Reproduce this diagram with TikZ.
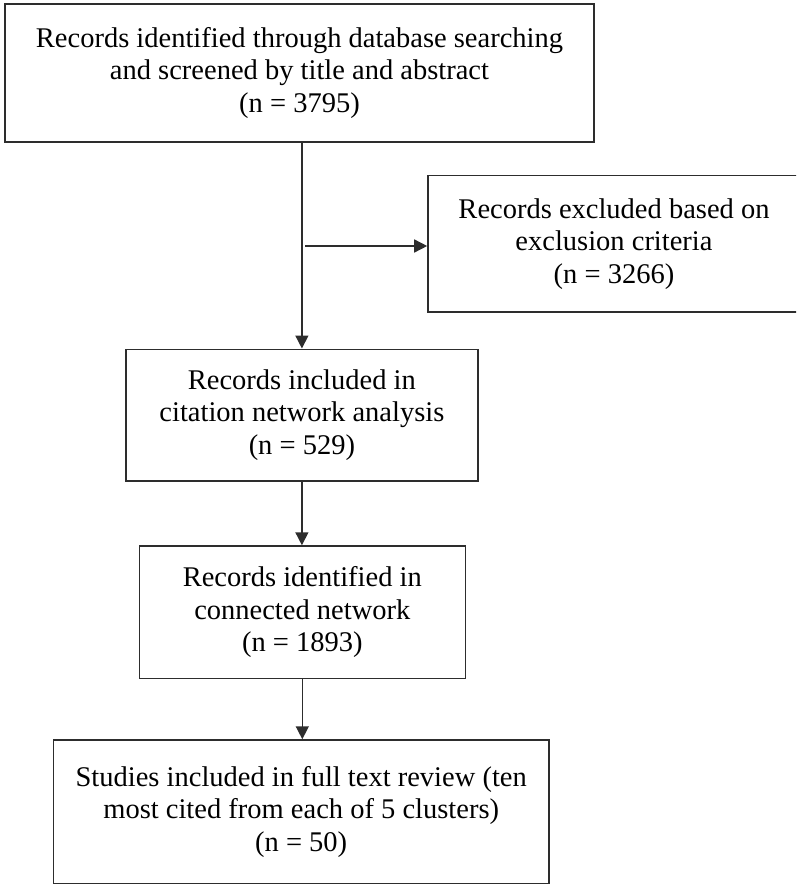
\documentclass[tikz,border=0pt]{standalone}
\usepackage{fontspec}
\setmainfont{Liberation Serif}
\usetikzlibrary{arrows.meta,positioning,calc}
\definecolor{linegray}{RGB}{45,45,45}

\tikzset{
  stagebox/.style={draw=linegray, line width=1.6pt, rectangle, align=center,
    inner sep=0pt, font=\fontsize{28.5}{32.5}\selectfont},
  flowarrow/.style={draw=linegray, line width=1.5pt,
    -{Triangle[length=13pt,width=13pt]}}
}

\begin{document}
\begin{tikzpicture}[x=1pt,y=-1pt]
        \clip (0,0) rectangle (796,885);

        % stages of the selection
        \node[stagebox, minimum width=589pt, minimum height=138pt] (records) at (299.5,73)
          {Records identified through database searching\\and screened by title and abstract\\(n = 3795)};
        \node[stagebox, minimum width=372pt, minimum height=136pt] (excluded) at (614,243.7)
          {Records excluded based on\\exclusion criteria\\(n = 3266)};
        \node[stagebox, minimum width=351.7pt, minimum height=131.4pt] (included) at (301.9,415)
          {Records included in\\citation network analysis\\(n = 529)};
        \node[stagebox, minimum width=326pt, minimum height=132.3pt] (connected) at (302.3,612.2)
          {Records identified in\\connected network\\(n = 1893)};
        \node[stagebox, minimum width=495.7pt, minimum height=143.3pt] (studies) at (301.2,811.7)
          {Studies included in full text review (ten\\most cited from each of 5 clusters)\\(n = 50)};

        % connectors
        \coordinate (branch) at (305,246);
        \draw[flowarrow] (included.north |- records.south) -- (included.north);
        \draw[flowarrow] (branch) -- (branch -| excluded.west);
        \draw[flowarrow] (included.south) -- (included.south |- connected.north);
        \draw[flowarrow] (connected.south) -- (connected.south |- studies.north);

      \end{tikzpicture}
\end{document}
